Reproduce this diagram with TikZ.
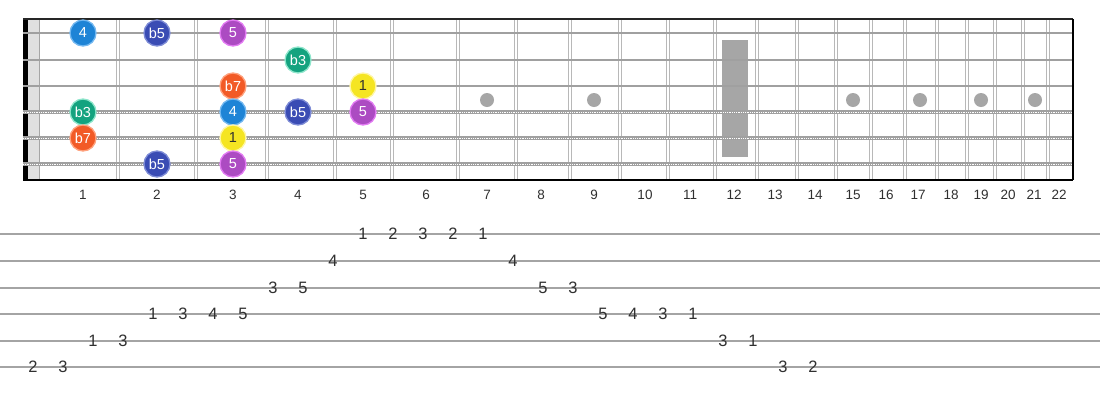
\documentclass[tikz,border=0pt]{standalone}
\usepackage{fontspec}
\setmainfont{Liberation Sans}
\usepackage{xcolor}

\definecolor{wire}{HTML}{B8B8B8}
\definecolor{strg}{HTML}{A0A0A0}
\definecolor{inlay}{HTML}{A6A6A6}
\definecolor{numtxt}{HTML}{303030}
\definecolor{tabline}{HTML}{A4A4A4}
\definecolor{fourfill}{HTML}{1E84D6}
\definecolor{fourring}{HTML}{74B8F0}
\definecolor{flatfivefill}{HTML}{3A4CB4}
\definecolor{flatfivering}{HTML}{7E8CD6}
\definecolor{fivefill}{HTML}{AC4BC2}
\definecolor{fivering}{HTML}{E27AF2}
\definecolor{flatthreefill}{HTML}{14A37F}
\definecolor{flatthreering}{HTML}{8FE6CC}
\definecolor{flatsevenfill}{HTML}{F25A26}
\definecolor{flatsevenring}{HTML}{FFA27E}
\definecolor{rootfill}{HTML}{F5E522}
\definecolor{rootring}{HTML}{FFF6A6}

\tikzset{
  fretwire/.style={draw=wire, line width=0.9pt, double=white, double distance=1.6pt},
  plainstring/.style={draw=strg, line width=2.2pt},
  woundstring/.style={draw=strg, line width=3.6pt},
  woundtwist/.style={draw=white, line width=1.0pt, dash pattern=on 0.9pt off 0.9pt},
  note/.style={circle, minimum size=26pt, inner sep=0pt, line width=1.3pt, text=white, font=\fontsize{14.5}{14.5}\selectfont},
  degfour/.style={note, fill=fourfill, draw=fourring},
  degflatfive/.style={note, fill=flatfivefill, draw=flatfivering},
  degfive/.style={note, fill=fivefill, draw=fivering},
  degflatthree/.style={note, fill=flatthreefill, draw=flatthreering},
  degflatseven/.style={note, fill=flatsevenfill, draw=flatsevenring},
  degroot/.style={note, fill=rootfill, draw=rootring, text=numtxt},
  fretnum/.style={text=numtxt, font=\fontsize{13.5}{13.5}\selectfont},
  tabnum/.style={text=numtxt, font=\fontsize{16.5}{16.5}\selectfont, inner sep=0pt}
}

\begin{document}
\begin{tikzpicture}[scale=1.000000,x=1pt,y=-1pt]
\useasboundingbox[fill=white] (0.000000,0.000000) rectangle (1100.000000,400.000000);
% Drawing fret wires
\draw[fretwire] (118.000000,19.000000) -- (118.000000,180.000000);
\draw[fretwire] (196.000000,19.000000) -- (196.000000,180.000000);
\draw[fretwire] (267.000000,19.000000) -- (267.000000,180.000000);
\draw[fretwire] (335.000000,19.000000) -- (335.000000,180.000000);
\draw[fretwire] (392.000000,19.000000) -- (392.000000,180.000000);
\draw[fretwire] (458.000000,19.000000) -- (458.000000,180.000000);
\draw[fretwire] (516.000000,19.000000) -- (516.000000,180.000000);
\draw[fretwire] (570.000000,19.000000) -- (570.000000,180.000000);
\draw[fretwire] (620.000000,19.000000) -- (620.000000,180.000000);
\draw[fretwire] (668.000000,19.000000) -- (668.000000,180.000000);
\draw[fretwire] (715.000000,19.000000) -- (715.000000,180.000000);
\draw[fretwire] (757.000000,19.000000) -- (757.000000,180.000000);
\draw[fretwire] (797.000000,19.000000) -- (797.000000,180.000000);
\draw[fretwire] (836.000000,19.000000) -- (836.000000,180.000000);
\draw[fretwire] (871.000000,19.000000) -- (871.000000,180.000000);
\draw[fretwire] (905.000000,19.000000) -- (905.000000,180.000000);
\draw[fretwire] (937.000000,19.000000) -- (937.000000,180.000000);
\draw[fretwire] (967.000000,19.000000) -- (967.000000,180.000000);
\draw[fretwire] (995.000000,19.000000) -- (995.000000,180.000000);
\draw[fretwire] (1023.000000,19.000000) -- (1023.000000,180.000000);
\draw[fretwire] (1048.000000,19.000000) -- (1048.000000,180.000000);
% Done with frets; drawing inlays
\fill[inlay] (487.000000,100.000000) circle(7.000000pt);
\fill[inlay] (594.000000,100.000000) circle(7.000000pt);
\fill[inlay] (722.000000,40.000000) rectangle (748.000000,157.000000);
\fill[inlay] (853.000000,100.000000) circle(7.000000pt);
\fill[inlay] (920.000000,100.000000) circle(7.000000pt);
\fill[inlay] (981.000000,100.000000) circle(7.000000pt);
\fill[inlay] (1035.000000,100.000000) circle(7.000000pt);
% Drawing nut
\fill[black] (23.000000,19.000000) rectangle (27.500000,180.000000);
\fill[black!12] (28.000000,19.000000) rectangle (40.000000,180.000000);
\draw[black!35, line width=1pt] (39.000000,19.000000) -- (39.000000,180.000000);
% Drawing strings
\draw[plainstring] (23.000000,33.000000) -- (1073.000000,33.000000);
\draw[plainstring] (23.000000,60.000000) -- (1073.000000,60.000000);
\draw[plainstring] (23.000000,86.000000) -- (1073.000000,86.000000);
\draw[woundstring] (23.000000,112.000000) -- (1073.000000,112.000000);
\draw[woundtwist] (23.000000,112.000000) -- (1073.000000,112.000000);
\draw[woundstring] (23.000000,138.000000) -- (1073.000000,138.000000);
\draw[woundtwist] (23.000000,138.000000) -- (1073.000000,138.000000);
\draw[woundstring] (23.000000,164.000000) -- (1073.000000,164.000000);
\draw[woundtwist] (23.000000,164.000000) -- (1073.000000,164.000000);
% Drawing edges of the board
\draw[black!85, line width=1.8pt] (23.000000,19.000000) -- (1073.000000,19.000000);
\draw[black, line width=1.6pt] (23.000000,180.000000) -- (1073.000000,180.000000);
\draw[black, line width=2pt] (1073.000000,19.000000) -- (1073.000000,180.000000);
% Done with board; drawing notes
\node[degfour] (e1) at (83.000000,33.000000) {4};
\node[degflatfive] (e2) at (157.000000,33.000000) {b5};
\node[degfive] (e3) at (233.000000,33.000000) {5};
\node[degflatthree] (b4) at (298.000000,60.000000) {b3};
\node[degflatseven] (g3) at (233.000000,86.000000) {b7};
\node[degroot] (g5) at (363.000000,86.000000) {1};
\node[degflatthree] (d1) at (83.000000,112.000000) {b3};
\node[degfour] (d3) at (233.000000,112.000000) {4};
\node[degflatfive] (d4) at (298.000000,112.000000) {b5};
\node[degfive] (d5) at (363.000000,112.000000) {5};
\node[degflatseven] (a1) at (83.000000,138.000000) {b7};
\node[degroot] (a3) at (233.000000,138.000000) {1};
\node[degflatfive] (lowe2) at (157.000000,164.000000) {b5};
\node[degfive] (lowe3) at (233.000000,164.000000) {5};
% Drawing fret numbers
\node[fretnum] (fn1) at (83.000000,195.000000) {1};
\node[fretnum] (fn2) at (157.000000,195.000000) {2};
\node[fretnum] (fn3) at (233.000000,195.000000) {3};
\node[fretnum] (fn4) at (298.000000,195.000000) {4};
\node[fretnum] (fn5) at (363.000000,195.000000) {5};
\node[fretnum] (fn6) at (426.000000,195.000000) {6};
\node[fretnum] (fn7) at (487.000000,195.000000) {7};
\node[fretnum] (fn8) at (541.000000,195.000000) {8};
\node[fretnum] (fn9) at (594.000000,195.000000) {9};
\node[fretnum] (fn10) at (645.000000,195.000000) {10};
\node[fretnum] (fn11) at (690.000000,195.000000) {11};
\node[fretnum] (fn12) at (734.000000,195.000000) {12};
\node[fretnum] (fn13) at (775.000000,195.000000) {13};
\node[fretnum] (fn14) at (815.000000,195.000000) {14};
\node[fretnum] (fn15) at (853.000000,195.000000) {15};
\node[fretnum] (fn16) at (886.000000,195.000000) {16};
\node[fretnum] (fn17) at (918.000000,195.000000) {17};
\node[fretnum] (fn18) at (951.000000,195.000000) {18};
\node[fretnum] (fn19) at (981.000000,195.000000) {19};
\node[fretnum] (fn20) at (1008.000000,195.000000) {20};
\node[fretnum] (fn21) at (1034.000000,195.000000) {21};
\node[fretnum] (fn22) at (1059.000000,195.000000) {22};
% Drawing tab lines
\draw[tabline, line width=1.5pt] (0.000000,234.000000) -- (1100.000000,234.000000);
\draw[tabline, line width=1.5pt] (0.000000,261.000000) -- (1100.000000,261.000000);
\draw[tabline, line width=1.5pt] (0.000000,288.000000) -- (1100.000000,288.000000);
\draw[tabline, line width=1.5pt] (0.000000,314.000000) -- (1100.000000,314.000000);
\draw[tabline, line width=1.5pt] (0.000000,341.000000) -- (1100.000000,341.000000);
\draw[tabline, line width=1.5pt] (0.000000,367.000000) -- (1100.000000,367.000000);
% Drawing tab, ascending
\node[tabnum] (t0) at (33.000000,367.000000) {2};
\node[tabnum] (t1) at (63.000000,367.000000) {3};
\node[tabnum] (t2) at (93.000000,341.000000) {1};
\node[tabnum] (t3) at (123.000000,341.000000) {3};
\node[tabnum] (t4) at (153.000000,314.000000) {1};
\node[tabnum] (t5) at (183.000000,314.000000) {3};
\node[tabnum] (t6) at (213.000000,314.000000) {4};
\node[tabnum] (t7) at (243.000000,314.000000) {5};
\node[tabnum] (t8) at (273.000000,288.000000) {3};
\node[tabnum] (t9) at (303.000000,288.000000) {5};
\node[tabnum] (t10) at (333.000000,261.000000) {4};
\node[tabnum] (t11) at (363.000000,234.000000) {1};
\node[tabnum] (t12) at (393.000000,234.000000) {2};
\node[tabnum] (t13) at (423.000000,234.000000) {3};
% Drawing tab, descending
\node[tabnum] (t14) at (453.000000,234.000000) {2};
\node[tabnum] (t15) at (483.000000,234.000000) {1};
\node[tabnum] (t16) at (513.000000,261.000000) {4};
\node[tabnum] (t17) at (543.000000,288.000000) {5};
\node[tabnum] (t18) at (573.000000,288.000000) {3};
\node[tabnum] (t19) at (603.000000,314.000000) {5};
\node[tabnum] (t20) at (633.000000,314.000000) {4};
\node[tabnum] (t21) at (663.000000,314.000000) {3};
\node[tabnum] (t22) at (693.000000,314.000000) {1};
\node[tabnum] (t23) at (723.000000,341.000000) {3};
\node[tabnum] (t24) at (753.000000,341.000000) {1};
\node[tabnum] (t25) at (783.000000,367.000000) {3};
\node[tabnum] (t26) at (813.000000,367.000000) {2};
% Done with tab
\end{tikzpicture}
\end{document}
